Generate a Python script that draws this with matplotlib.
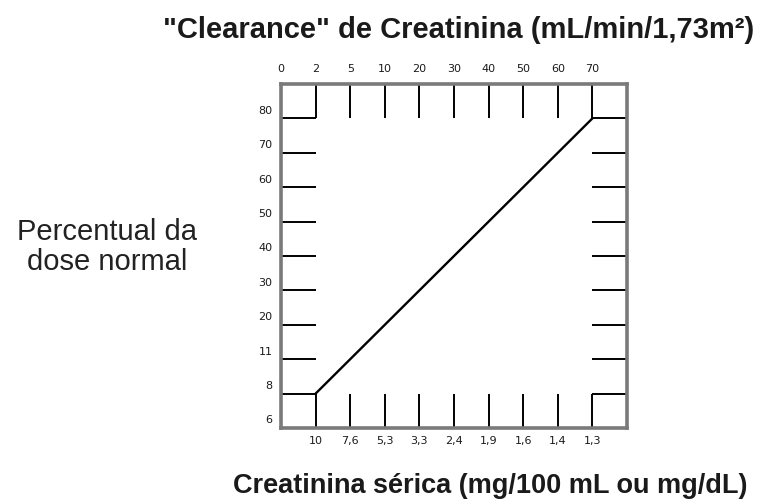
import matplotlib
matplotlib.use("Agg")
import matplotlib.pyplot as plt

# escalas do nomograma
clearance = [0, 2, 5, 10, 20, 30, 40, 50, 60, 70]
creatinina = ["10", "7,6", "5,3", "3,3", "2,4", "1,9", "1,6", "1,4", "1,3"]
percentual = [6, 8, 11, 20, 30, 40, 50, 60, 70, 80]

# reta de ajuste de dose: clearance 2 -> 8 %, clearance 70 -> 80 %
reta_clearance = [2, 70]
reta_percentual = [8, 80]

plt.rcParams["font.family"] = ["Liberation Sans", "DejaVu Sans"]

fig = plt.figure(figsize=(7.63, 5.04), dpi=100)
W, H = 763, 504
ax = fig.add_axes([281 / W, (H - 428) / H, 346 / W, 344 / H])
n = len(clearance)
ax.set_xlim(0, n)
ax.set_ylim(0, n)
ax.set_xticks([])
ax.set_yticks([])
for s in ax.spines.values():
    s.set_color("#7a7a7a")
    s.set_linewidth(2.6)

kw = dict(color="black", lw=1.4, solid_capstyle="butt")
ix = list(range(n))  # posição de cada divisão

# marcas de cima e de baixo (colunas 1..n-1)
for i in ix[1:]:
    ax.plot([i, i], [n - 1, n], **kw)
    ax.plot([i, i], [0, 1], **kw)
# marcas laterais (linhas 1..n-1)
for j in ix[1:]:
    ax.plot([0, 1], [j, j], **kw)
    ax.plot([n - 1, n], [j, j], **kw)

# reta
x_reta = [clearance.index(c) for c in reta_clearance]
y_reta = [percentual.index(p) for p in reta_percentual]
ax.plot(x_reta, y_reta, color="black", lw=1.7)

# rótulos das escalas
tk = dict(fontsize=8, family="DejaVu Sans", color="#1a1a1a")
for i, c in enumerate(clearance):
    ax.text(i, n + 0.43, str(c), ha="center", va="center", **tk)
for i, c in enumerate(creatinina):
    ax.text(i + 1, -0.38, c, ha="center", va="center", **tk)
for j, p in enumerate(percentual):
    ax.text(-0.25, j + 0.22, str(p), ha="right", va="center", **tk)

fig.text(459 / W, 1 - 38 / H, '"Clearance" de Creatinina (mL/min/1,73m²)',
         ha="center", va="baseline", fontsize=21, fontweight="bold", color="#1a1a1a")
fig.text(490 / W, 1 - 493 / H, "Creatinina sérica (mg/100 mL ou mg/dL)",
         ha="center", va="baseline", fontsize=19.5, fontweight="bold", color="#1a1a1a")
fig.text(107 / W, 1 - 247 / H, "Percentual da\ndose normal", ha="center",
         va="center", multialignment="center", fontsize=21, linespacing=1.06,
         color="#222222")

fig.savefig("out.png", dpi=100)
